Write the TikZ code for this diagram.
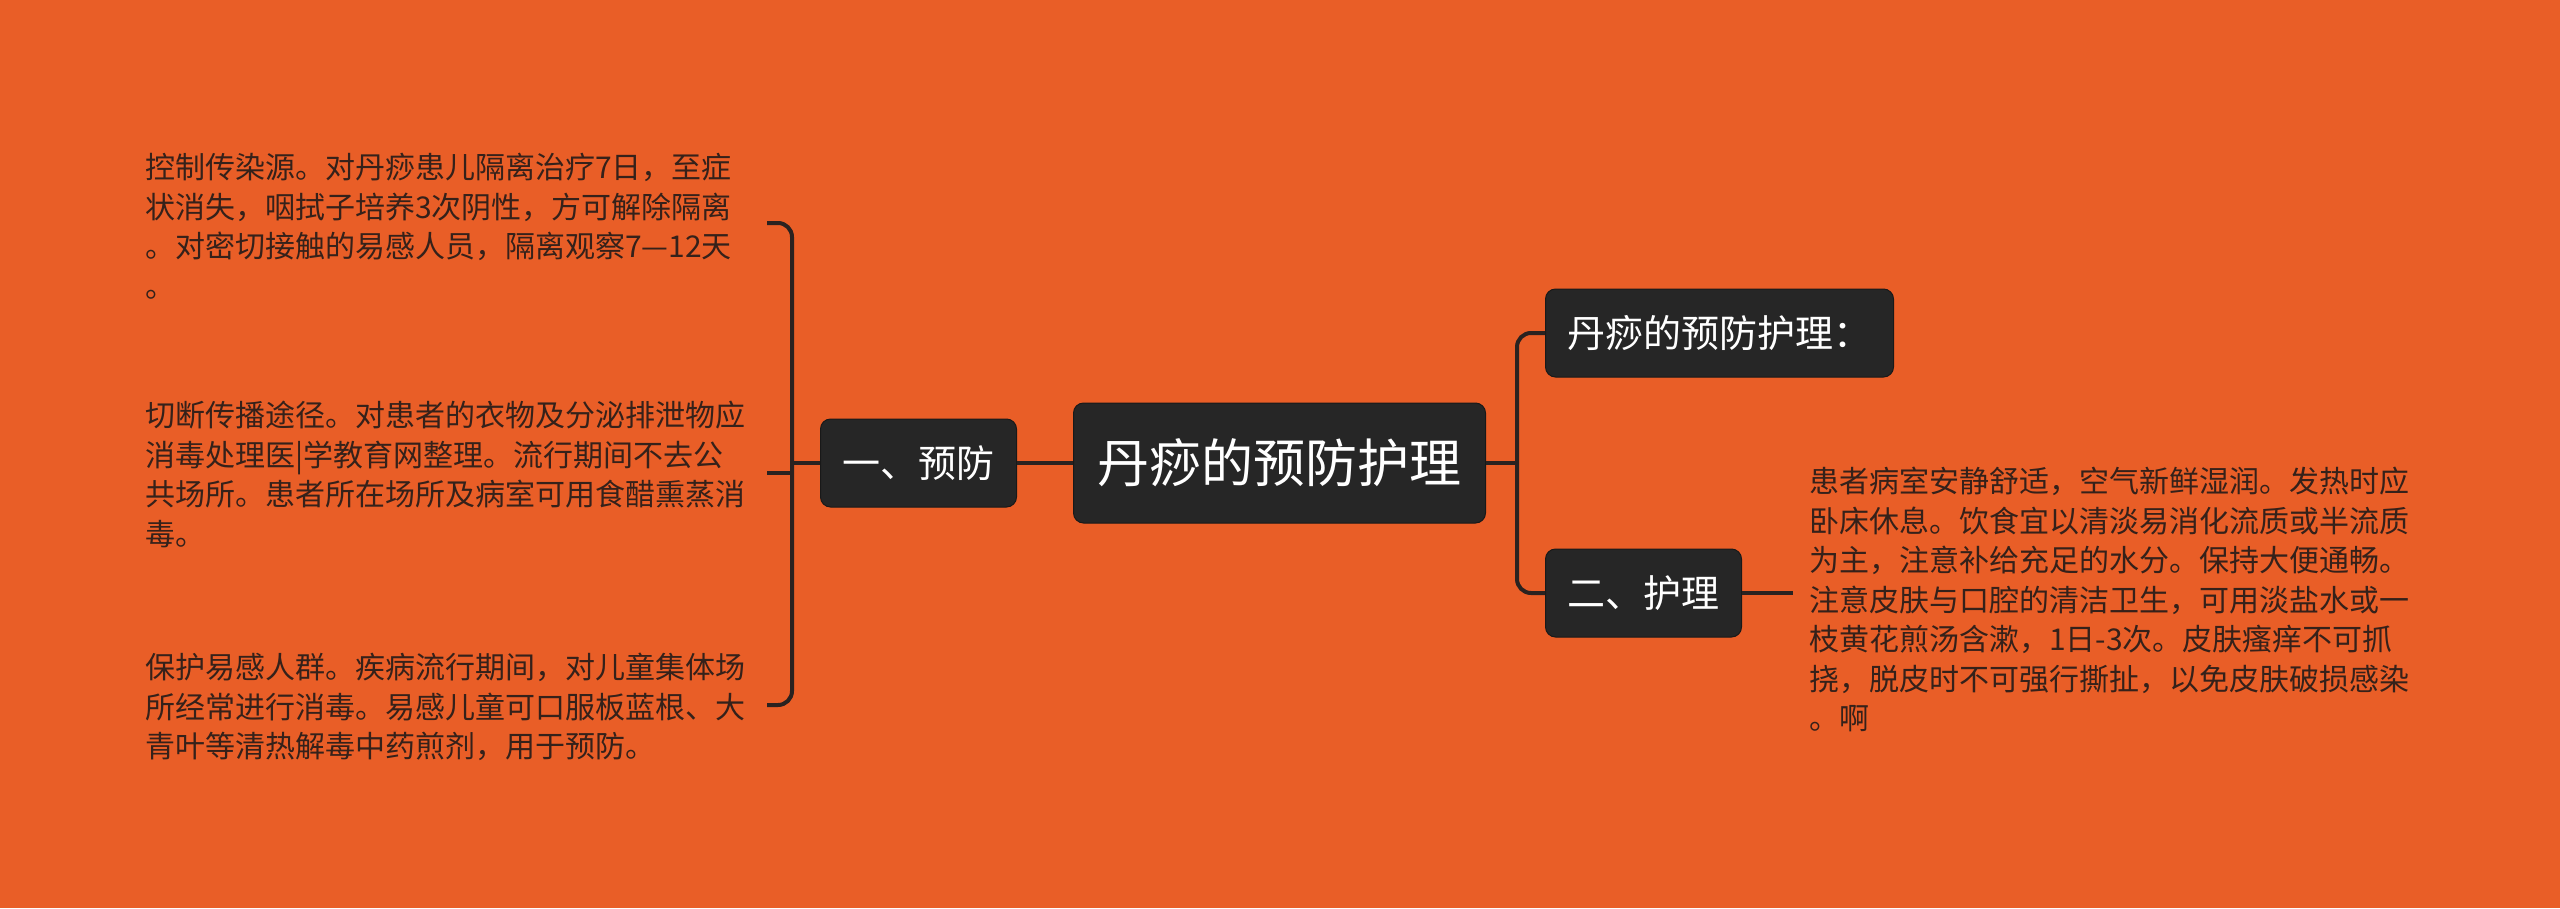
\documentclass[tikz,border=0pt]{standalone}
\usepackage{fontspec}
\setmainfont{Noto Sans CJK SC}
\definecolor{bg}{HTML}{E95E27}
\definecolor{boxfill}{HTML}{262626}
\definecolor{linec}{HTML}{2A2220}
\definecolor{txt}{HTML}{35211A}
\tikzset{
  mainbox/.style={fill=boxfill, draw=black!90, line width=1pt, rounded corners=10pt, text=white,
    font=\fontsize{52}{60}\selectfont, inner xsep=24pt, minimum height=120pt},
  subbox/.style={fill=boxfill, draw=black!90, line width=1pt, rounded corners=10pt, text=white,
    font=\fontsize{38}{44}\selectfont, inner xsep=22pt, minimum height=88pt},
  body/.style={text=txt, font=\fontsize{30}{39.5}\selectfont, align=left, inner sep=0pt, anchor=north west},
  conn/.style={draw=linec, line width=4pt, rounded corners=14pt}
}
\begin{document}
\begin{tikzpicture}[x=1pt,y=-1pt]
\fill[bg] (0,0) rectangle (2560,908);
\useasboundingbox (0,0) rectangle (2560,908);

\node[mainbox] (c) at (1279.5,463) {丹痧的预防护理};
\node[subbox] (n1) at (918.5,463) {一、预防};
\node[subbox, anchor=west] (r1) at (1545,333) {丹痧的预防护理：};
\node[subbox, anchor=west] (r2) at (1545,593) {二、护理};

\node[body] (l1) at (145,153) {控制传染源。对丹痧患儿隔离治疗7日，至症\\状消失，咽拭子培养3次阴性，方可解除隔离\\。对密切接触的易感人员，隔离观察7—12天\\。};
\node[body] (l2) at (145,401) {切断传播途径。对患者的衣物及分泌排泄物应\\消毒处理医|学教育网整理。流行期间不去公\\共场所。患者所在场所及病室可用食醋熏蒸消\\毒。};
\node[body] (l3) at (145,653) {保护易感人群。疾病流行期间，对儿童集体场\\所经常进行消毒。易感儿童可口服板蓝根、大\\青叶等清热解毒中药煎剂，用于预防。};
\node[body] (rt) at (1809,467) {患者病室安静舒适，空气新鲜湿润。发热时应\\卧床休息。饮食宜以清淡易消化流质或半流质\\为主，注意补给充足的水分。保持大便通畅。\\注意皮肤与口腔的清洁卫生，可用淡盐水或一\\枝黄花煎汤含漱，1日-3次。皮肤瘙痒不可抓\\挠，脱皮时不可强行撕扯，以免皮肤破损感染\\。啊};

\coordinate (t1) at (767,223);
\coordinate (t2) at (767,473);
\coordinate (t3) at (767,705);
\coordinate (bx) at (792,463);
\coordinate (rx) at (1517,463);
\coordinate (re) at (1793,593);

\draw[conn] (t1) -| (bx) |- (t3);
\draw[conn] (t2) -- (t2 -| bx);
\draw[conn] (n1.west) -- (n1.west -| bx);
\draw[conn] (c.west) -- (n1.east);
\draw[conn] (r1.west) -| (rx) |- (r2.west);
\draw[conn] (c.east) -- (rx);
\draw[conn] (r2.east) -- (re);
\end{tikzpicture}
\end{document}
